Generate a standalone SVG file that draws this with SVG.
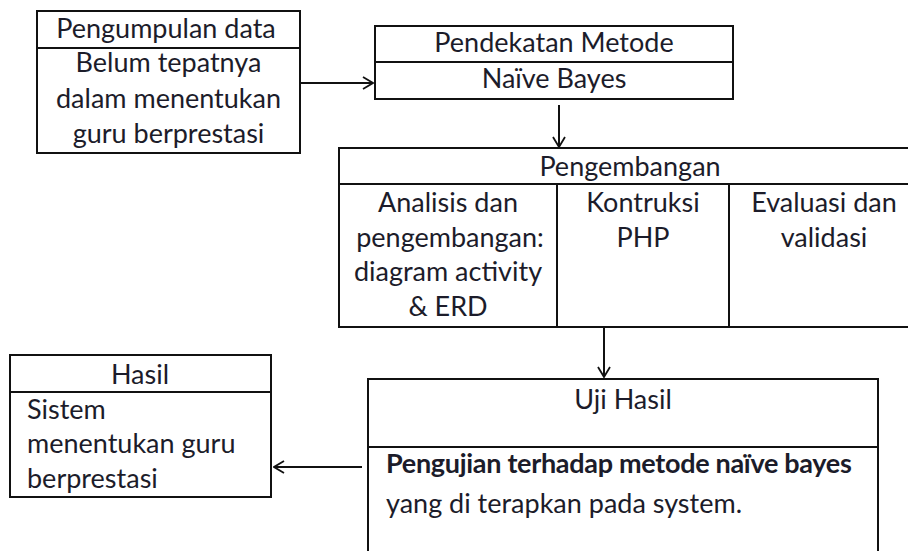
<svg xmlns="http://www.w3.org/2000/svg" width="908" height="551" viewBox="0 0 908 551">
<defs>
<style>
.box{fill:#fff;stroke:#111;stroke-width:2}
.ln{stroke:#111;stroke-width:2;fill:none}
.t{font-family:Lato,"Open Sans","Liberation Sans",sans-serif;font-size:27px;fill:#1c1c2a}
.c{text-anchor:middle}
.b{font-weight:bold;letter-spacing:-0.3px}
</style>
<marker id="arr" viewBox="0 0 12 14" refX="11" refY="7" markerWidth="12" markerHeight="14" markerUnits="userSpaceOnUse" orient="auto">
<path d="M1,1 L11,7 L1,13" fill="none" stroke="#111" stroke-width="1.8"/>
</marker>
</defs>
<rect width="908" height="551" fill="#fff"/>
<g id="pengumpulan">
<rect class="box" x="37" y="11" width="263" height="142"/>
<line class="ln" x1="37" y1="48" x2="300" y2="48"/>
<text class="t c" x="166" y="38">Pengumpulan data</text>
<text class="t c" x="168.5" y="72">Belum tepatnya</text>
<text class="t c" x="168.5" y="108">dalam menentukan</text>
<text class="t c" x="168.5" y="143">guru berprestasi</text>
</g>
<g id="pendekatan">
<rect class="box" x="375" y="26" width="358" height="73"/>
<line class="ln" x1="375" y1="62" x2="733" y2="62"/>
<text class="t c" x="554" y="52">Pendekatan Metode</text>
<text class="t c" x="554" y="88">Naïve Bayes</text>
</g>
<g id="pengembangan">
<rect class="box" x="339" y="148" width="590" height="179"/>
<line class="ln" x1="339" y1="184" x2="929" y2="184"/>
<line class="ln" x1="557" y1="184" x2="557" y2="327"/>
<line class="ln" x1="729" y1="184" x2="729" y2="327"/>
<text class="t c" x="630" y="176">Pengembangan</text>
<text class="t c" x="448" y="212">Analisis dan</text>
<text class="t c" x="450" y="247">pengembangan:</text>
<text class="t c" x="448" y="281">diagram activity</text>
<text class="t c" x="448" y="316">&amp; ERD</text>
<text class="t c" x="643" y="212">Kontruksi</text>
<text class="t c" x="643" y="247">PHP</text>
<text class="t c" x="824" y="212">Evaluasi dan</text>
<text class="t c" x="824" y="247">validasi</text>
</g>
<g id="uji-hasil">
<rect class="box" x="368" y="379" width="510" height="200"/>
<line class="ln" x1="368" y1="447" x2="878" y2="447"/>
<text class="t c" x="623" y="409">Uji Hasil</text>
<text class="t b" x="386" y="473">Pengujian terhadap metode naïve bayes</text>
<text class="t" x="386" y="513">yang di terapkan pada system.</text>
</g>
<g id="hasil">
<rect class="box" x="10" y="355" width="261" height="142"/>
<line class="ln" x1="10" y1="392" x2="271" y2="392"/>
<text class="t c" x="140" y="384">Hasil</text>
<text class="t" x="27" y="419">Sistem</text>
<text class="t" x="27" y="453">menentukan guru</text>
<text class="t" x="27" y="488">berprestasi</text>
</g>
<g id="connectors">
<line class="ln" x1="301" y1="83" x2="373" y2="83" marker-end="url(#arr)"/>
<line class="ln" x1="559" y1="105" x2="559" y2="147" marker-end="url(#arr)"/>
<line class="ln" x1="604" y1="328" x2="604" y2="377" marker-end="url(#arr)"/>
<line class="ln" x1="362" y1="467" x2="274" y2="467" marker-end="url(#arr)"/>
</g>
</svg>
